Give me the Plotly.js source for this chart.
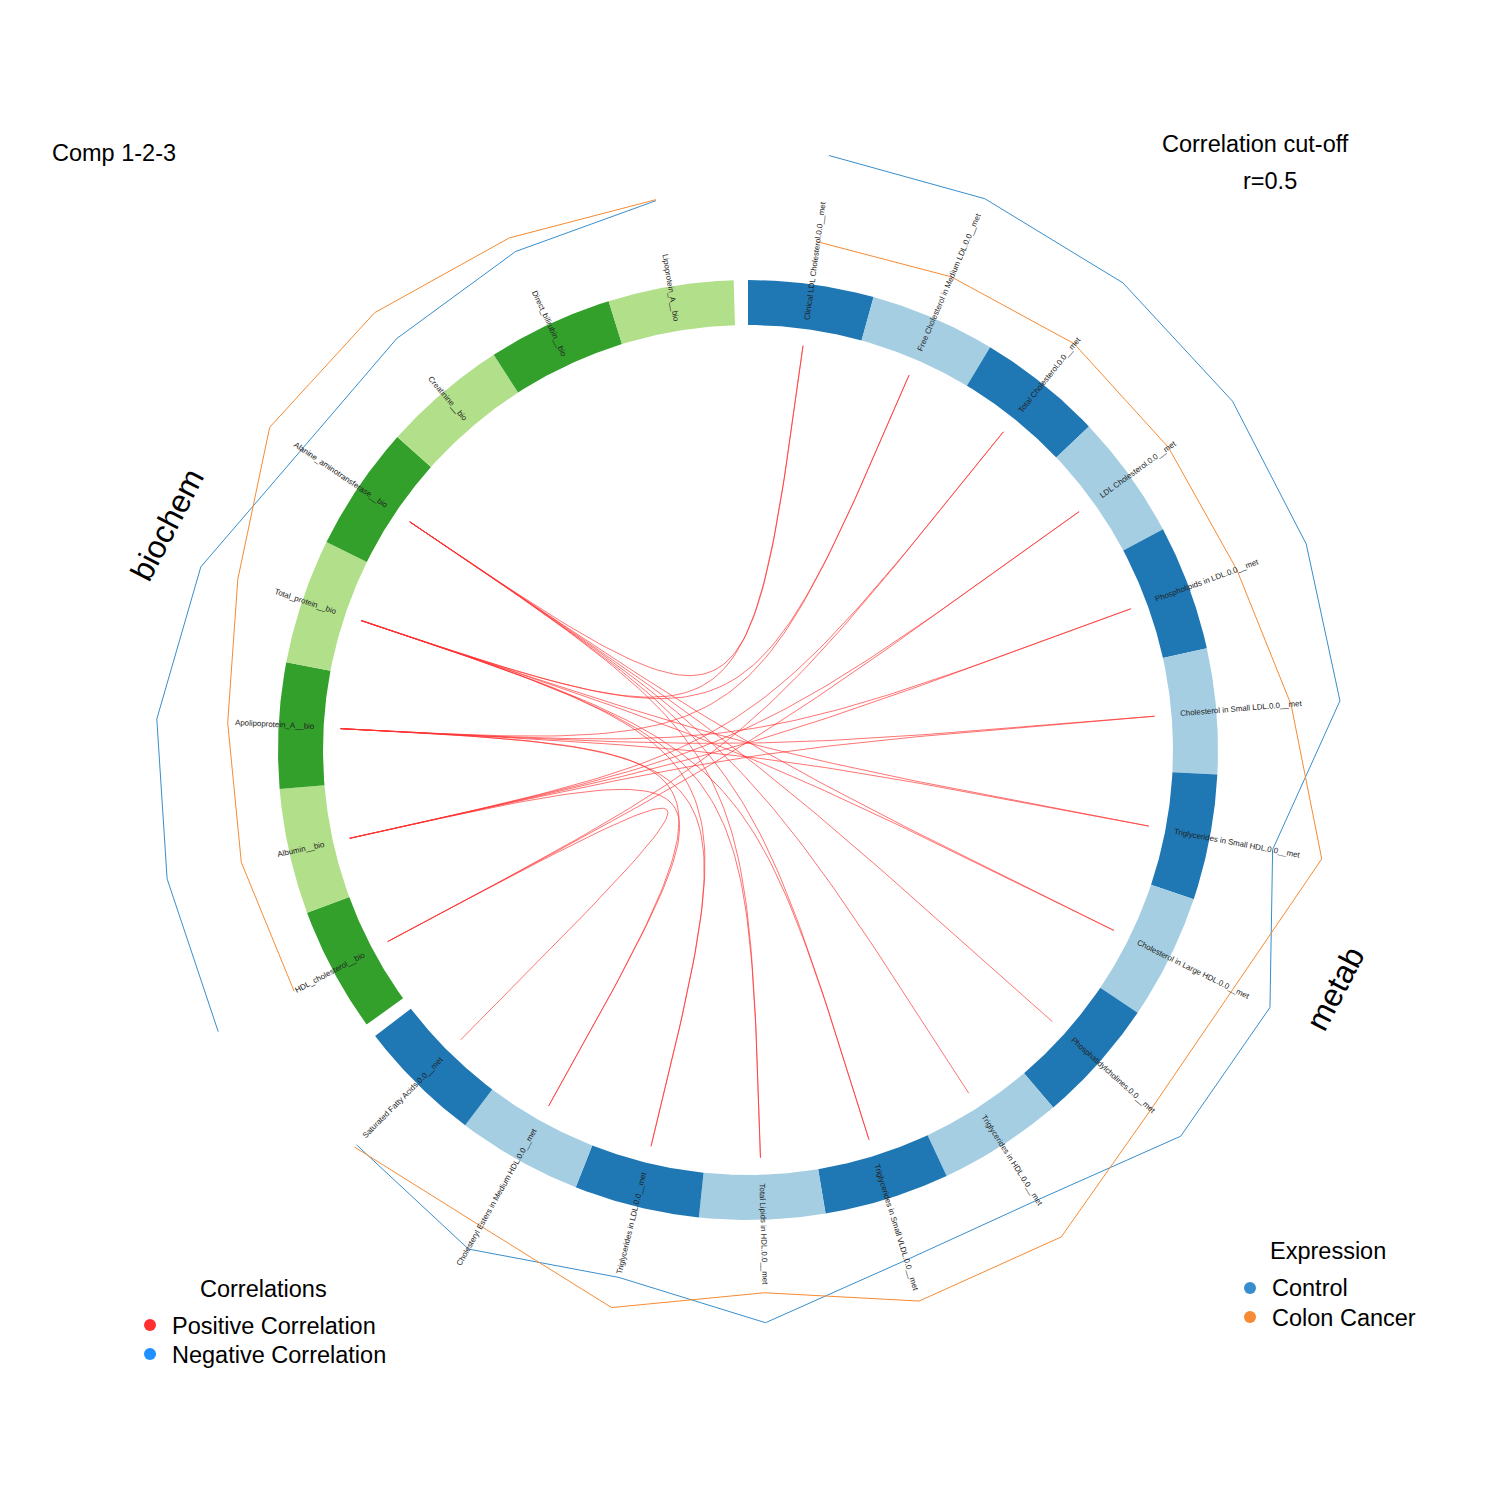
<!DOCTYPE html>
<html><head><meta charset="utf-8">
<script src="https://cdn.plot.ly/plotly-3.0.1.min.js"></script>
<style>html,body{margin:0;padding:0;background:#fff}</style>
</head><body><div id="chart" style="width:1500px;height:1500px"></div>
<script>
// ---------------- data ----------------
const metabNames = [
  "Clinical LDL Cholesterol.0.0__met","Free Cholesterol in Medium LDL.0.0__met","Total Cholesterol.0.0__met",
  "LDL Cholesterol.0.0__met","Phospholipids in LDL.0.0__met","Cholesterol in Small LDL.0.0__met",
  "Triglycerides in Small HDL.0.0__met","Cholesterol in Large HDL.0.0__met","Phosphatidylcholines.0.0__met",
  "Triglycerides in HDL.0.0__met","Triglycerides in Small VLDL.0.0__met","Total Lipids in HDL.0.0__met",
  "Triglycerides in LDL.0.0__met","Cholesteryl Esters in Medium HDL.0.0__met","Saturated Fatty Acids.0.0__met"];
const biochemNames = ["HDL_cholesterol__bio","Albumin__bio","Apolipoprotein_A__bio","Total_protein__bio",
  "Alanine_aminotransferase__bio","Creatinine__bio","Direct_bilirubin__bio","Lipoprotein_A__bio"];
// scaled mean expression per group (0..1)
const metabControl = [1.00,1.00,0.99,0.97,0.95,0.94,0.34,0.82,0.80,0.35,0.34,0.73,0.43,0.72,0.56];
const metabCancer  = [0.13,0.15,0.21,0.18,0.21,0.45,0.84,0.41,0.40,0.79,0.77,0.43,0.74,0.46,0.59];
const biochemControl = [1.00,0.95,0.92,0.77,0.38,0.41,0.50,0.57];
const biochemCancer  = [0.14,0.19,0.21,0.38,0.77,0.75,0.65,0.58];
// positive correlations (r > 0.5) between blocks
const corrMetab = [0,0,1,1,2,2,3,3,4,4,5,5,6,6,7,7,8,9,10,10,11,11,12,12,13,13,14];
const corrBio   = [3,4,3,2,0,1,0,1,1,2,2,1,3,2,4,3,4,4,4,3,3,4,3,2,2,1,0];
const groupNames = ["Control","Colon Cancer"];
const corrLegend = ["Positive Correlation","Negative Correlation"];

// ---------------- geometry ----------------
const CX=748, CY=750, RIN=425, ROUT=470, RCH=408, RLAB=433;
const W=15.5, G=1.75;
const D2R=Math.PI/180;
function pt(r,deg){return [CX+r*Math.sin(deg*D2R), CY-r*Math.cos(deg*D2R)];}
const metabStart = metabNames.map((_,i)=>i*W);
const bioStart = biochemNames.map((_,j)=>metabNames.length*W+G+j*W);
const metabMid = metabStart.map(a=>a+W/2);
const bioMid = bioStart.map(a=>a+W/2);
const expR = v=>500+100*v;

const traces=[];
function block(a0,a1,color){
  const xs=[],ys=[];
  for(let a=a0;a<=a1+1e-9;a+=0.25){const p=pt(ROUT,a);xs.push(p[0]);ys.push(p[1]);}
  for(let a=a1;a>=a0-1e-9;a-=0.25){const p=pt(RIN,a);xs.push(p[0]);ys.push(p[1]);}
  traces.push({type:'scatter',mode:'lines',x:xs,y:ys,fill:'toself',fillcolor:color,
    line:{width:0,color:color},hoverinfo:'skip',showlegend:false});
}
metabStart.forEach((a,i)=>block(a,a+W,i%2===0?'#1F78B4':'#A6CEE3'));
bioStart.forEach((a,j)=>block(a,a+W,j%2===0?'#33A02C':'#B2DF8A'));

// chords
const chX=[],chY=[];
corrMetab.forEach((m,k)=>{
  const p0=pt(RCH,metabMid[m]), p3=pt(RCH,bioMid[corrBio[k]]);
  for(let s=0;s<=80;s++){const t=s/80;const a=(1-t)**3,b=3*(1-t)*(1-t)*t+3*(1-t)*t*t,c=t**3;
    chX.push(a*p0[0]+b*CX+c*p3[0]); chY.push(a*p0[1]+b*CY+c*p3[1]);}
  chX.push(null);chY.push(null);
});
traces.push({type:'scatter',mode:'lines',x:chX,y:chY,line:{color:'rgba(255,48,48,0.85)',width:0.8},hoverinfo:'skip',showlegend:false});

// expression lines
function expLine(mids,vals,color){
  const xs=[],ys=[];
  mids.forEach((a,i)=>{const p=pt(expR(vals[i]),a);xs.push(p[0]);ys.push(p[1]);});
  traces.push({type:'scatter',mode:'lines',x:xs,y:ys,line:{color:color,width:1},hoverinfo:'skip',showlegend:false});
}
expLine(metabMid,metabControl,'#388ECC');
expLine(metabMid,metabCancer,'#F68B33');
expLine(bioMid,biochemControl,'#388ECC');
expLine(bioMid,biochemCancer,'#F68B33');

// legend dots
traces.push({type:'scatter',mode:'markers',x:[150,150],y:[1325,1354],marker:{size:12,color:['#FF3030','#1E90FF']},hoverinfo:'skip',showlegend:false});
traces.push({type:'scatter',mode:'markers',x:[1250,1250],y:[1288,1317],marker:{size:12,color:['#388ECC','#F68B33']},hoverinfo:'skip',showlegend:false});

// annotations
const FONT='Liberation Sans, Arial, sans-serif';
const ann=[];
function label(text,mid){
  const h=10;
  const d=[Math.sin(mid*D2R),-Math.cos(mid*D2R)]; // outward
  let dir,P=pt(RLAB,mid),ang,xa,ya,ax,ay;
  if(mid<180){ // reads outward, starts at P
    dir=d; ang=mid-90;
    xa=dir[0]>=0?'left':'right'; ya=dir[1]>=0?'top':'bottom';
    ax=P[0]+(dir[0]>=0?-1:1)*h/2*Math.abs(dir[1]);
    ay=P[1]+(dir[1]>=0?-1:1)*h/2*Math.abs(dir[0]);
  } else { // reads inward, ends at P
    dir=[-d[0],-d[1]]; ang=mid-270;
    xa=dir[0]>=0?'right':'left'; ya=dir[1]>=0?'bottom':'top';
    ax=P[0]+(dir[0]>=0?1:-1)*h/2*Math.abs(dir[1]);
    ay=P[1]+(dir[1]>=0?1:-1)*h/2*Math.abs(dir[0]);
  }
  ann.push({x:ax,y:ay,xref:'x',yref:'y',text:text,showarrow:false,textangle:ang,
    xanchor:xa,yanchor:ya,borderpad:0,font:{family:FONT,size:7.9,color:'#222'}});
}
metabNames.forEach((n,i)=>label(n,metabMid[i]));
biochemNames.forEach((n,j)=>label(n,bioMid[j]));
function txt(t,x,y,size,xa,angle){ann.push({x:x,y:y,xref:'x',yref:'y',text:t,showarrow:false,xanchor:xa||'center',yanchor:'middle',textangle:angle||0,font:{family:FONT,size:size,color:'#000'}});}
txt('Comp 1-2-3',50,153,23.5,'left');
txt('Correlation cut-off',1255,144,23.5);
txt('r=0.5',1270,181,23.5);
txt('biochem',167,525,32,'center',-62.5);
txt('metab',1335,989,32,'center',-62.5);
txt('Correlations',263,1289,23.5);
txt(corrLegend[0],170,1326,23.5,'left');
txt(corrLegend[1],170,1355,23.5,'left');
txt('Expression',1328,1251,23.5);
txt(groupNames[0],1270,1288,23.5,'left');
txt(groupNames[1],1270,1318,23.5,'left');

const layout={width:1500,height:1500,margin:{l:0,r:0,t:0,b:0},paper_bgcolor:'#fff',plot_bgcolor:'#fff',
  xaxis:{range:[0,1500],visible:false,fixedrange:true},
  yaxis:{range:[1500,0],visible:false,fixedrange:true},
  annotations:ann,showlegend:false};
Plotly.newPlot('chart',traces,layout,{staticPlot:true});
</script></body></html>
